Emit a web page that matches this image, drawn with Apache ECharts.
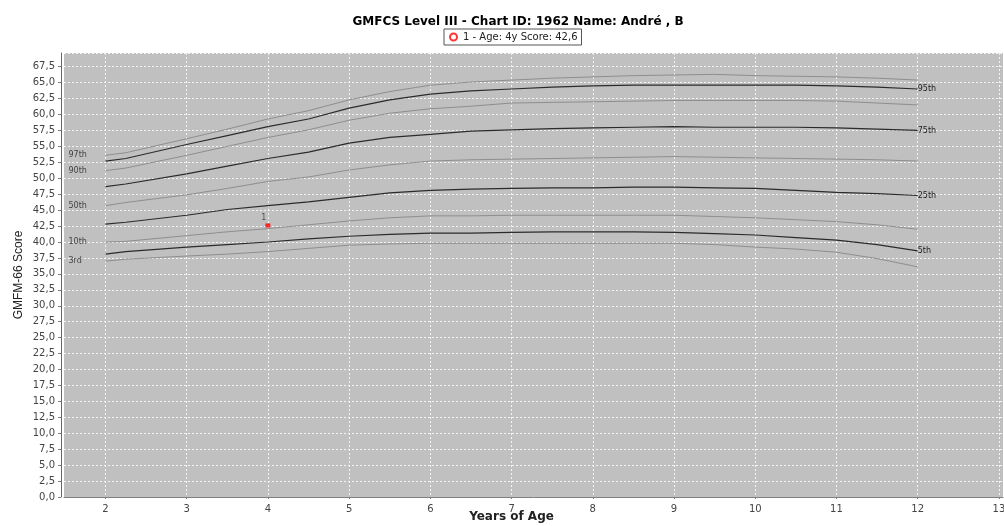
<!DOCTYPE html>
<html>
<head>
<meta charset="utf-8">
<title>GMFCS Level III</title>
<script src="https://cdn.jsdelivr.net/npm/echarts@6/dist/echarts.min.js"></script>
<style>
  html, body { margin: 0; padding: 0; background: #fff; }
  #main { width: 1004px; height: 526px; }
</style>
</head>
<body>
<div id="main"></div>
<script>
  // ages (years) at which the percentile curves are read
  var ages = [2, 2.25, 3, 3.5, 4, 4.5, 5, 5.5, 6, 6.5, 7, 7.5, 8, 8.5, 9, 9.5, 10, 10.5, 11, 11.5, 12];

  // GMFM-66 percentile curves, level III
  var p97 = [53.6, 54.0, 56.2, 57.7, 59.3, 60.6, 62.3, 63.6, 64.6, 65.1, 65.4, 65.7, 65.9, 66.1, 66.2, 66.3, 66.1, 66.0, 65.9, 65.7, 65.4];
  var p95 = [52.7, 53.1, 55.3, 56.7, 58.1, 59.3, 61.0, 62.3, 63.2, 63.7, 64.0, 64.3, 64.5, 64.6, 64.6, 64.6, 64.6, 64.6, 64.5, 64.3, 64.0];
  var p90 = [51.2, 51.6, 53.6, 55.0, 56.4, 57.6, 59.1, 60.2, 60.9, 61.3, 61.8, 61.9, 62.0, 62.1, 62.2, 62.2, 62.2, 62.2, 62.1, 61.8, 61.5];
  var p75 = [48.7, 49.1, 50.7, 51.9, 53.1, 54.1, 55.5, 56.4, 56.9, 57.4, 57.6, 57.8, 57.9, 58.0, 58.1, 58.0, 58.0, 58.0, 57.9, 57.7, 57.5];
  var p50 = [45.7, 46.2, 47.4, 48.4, 49.5, 50.2, 51.3, 52.1, 52.7, 52.9, 53.0, 53.1, 53.2, 53.3, 53.4, 53.3, 53.2, 53.1, 53.0, 52.9, 52.7];
  var p25 = [42.8, 43.1, 44.2, 45.1, 45.7, 46.3, 47.0, 47.7, 48.1, 48.3, 48.4, 48.5, 48.5, 48.6, 48.6, 48.5, 48.4, 48.1, 47.8, 47.6, 47.3];
  var p10 = [40.0, 40.1, 41.0, 41.6, 42.1, 42.7, 43.3, 43.8, 44.1, 44.1, 44.2, 44.2, 44.2, 44.2, 44.2, 44.0, 43.8, 43.5, 43.2, 42.7, 42.0];
  var p5  = [38.1, 38.5, 39.2, 39.6, 40.0, 40.5, 40.9, 41.2, 41.4, 41.4, 41.5, 41.6, 41.6, 41.6, 41.5, 41.3, 41.1, 40.7, 40.3, 39.6, 38.6];
  var p3  = [37.0, 37.3, 37.8, 38.1, 38.5, 39.0, 39.5, 39.7, 39.8, 39.8, 39.8, 39.8, 39.8, 39.8, 39.8, 39.6, 39.2, 38.9, 38.4, 37.4, 36.1];

  // gray curves are labelled on the left, dark ones at their end
  var grayNames = ['97th', '90th', '50th', '10th', '3rd'];
  var grayData = [p97, p90, p50, p10, p3];
  var darkNames = ['95th', '75th', '25th', '5th'];
  var darkData = [p95, p75, p25, p5];

  // the patient's measurement
  var pointAge = [4];
  var pointScore = [42.6];
  var pointLabel = ['1'];
  var legendText = '1 - Age: 4y Score: 42,6';

  var xTicks = [2, 3, 4, 5, 6, 7, 8, 9, 10, 11, 12, 13];
  var xMin = 1.49, xMax = 13.05;

  function pairs(arr) {
    var out = [];
    for (var i = 0; i < ages.length; i++) {
      out.push([ages[i], arr[i]]);
    }
    return out;
  }

  var series = [];
  for (var i = 0; i < grayData.length; i++) {
    series.push({
      name: grayNames[i],
      type: 'line',
      data: pairs(grayData[i]),
      showSymbol: false,
      silent: true,
      lineStyle: { color: '#8e8e8e', width: 1 }
    });
  }
  for (var j = 0; j < darkData.length; j++) {
    series.push({
      name: darkNames[j],
      type: 'line',
      data: pairs(darkData[j]),
      showSymbol: false,
      silent: true,
      lineStyle: { color: '#2b2b2b', width: 1.2 },
      endLabel: {
        show: true,
        formatter: darkNames[j],
        distance: 0,
        fontFamily: 'DejaVu Sans',
        fontSize: 8,
        color: '#222'
      }
    });
  }
  // left side labels, anchored at the axis start
  series.push({
    name: 'leftLabels',
    type: 'scatter',
    silent: true,
    symbolSize: 1,
    itemStyle: { color: 'transparent' },
    data: grayData.map(function (d) { return [xMin, d[0]]; }),
    label: {
      show: true,
      position: 'right',
      distance: 4,
      formatter: function (p) { return grayNames[p.dataIndex]; },
      fontFamily: 'DejaVu Sans',
      fontSize: 8,
      color: '#222'
    }
  });
  series.push({
    name: legendText,
    type: 'scatter',
    symbol: 'rect',
    symbolSize: [5, 4],
    itemStyle: { color: '#ff0000' },
    data: pointAge.map(function (a, k) { return [a, pointScore[k]]; }),
    label: {
      show: true,
      position: 'top',
      offset: [-4, 3],
      formatter: function (p) { return pointLabel[p.dataIndex]; },
      fontFamily: 'DejaVu Sans',
      fontSize: 8,
      color: '#333'
    }
  });

  var chart = echarts.init(document.getElementById('main'));
  chart.setOption({
    animation: false,
    title: {
      text: 'GMFCS Level III - Chart ID: 1962 Name: André , B',
      left: 513,
      textAlign: 'center',
      top: 11,
      textStyle: { fontFamily: 'DejaVu Sans', fontSize: 12, fontWeight: 'bold', color: '#000' }
    },
    legend: {
      left: 444,
      top: 29,
      padding: [3, 4, 3, 5],
      borderColor: '#555',
      borderWidth: 1,
      backgroundColor: '#fff',
      itemWidth: 7,
      itemHeight: 7,
      itemGap: 3,
      data: [{ name: legendText, icon: 'emptyCircle', itemStyle: { color: '#ff0000', borderColor: '#ff0000', borderWidth: 1.5 } }],
      textStyle: { fontFamily: 'DejaVu Sans', fontSize: 10, color: '#222', padding: [0, 0, 0, 1] }
    },
    grid: {
      left: 64,
      right: 1,
      top: 53,
      bottom: 29,
      outerBoundsMode: 'none',
      show: true,
      backgroundColor: '#c0c0c0',
      borderWidth: 0
    },
    xAxis: {
      type: 'value',
      min: xMin,
      max: xMax,
      offset: 3,
      name: 'Years of Age',
      nameLocation: 'middle',
      nameGap: 11,
      nameMoveOverlap: false,
      nameTextStyle: { fontFamily: 'DejaVu Sans', fontSize: 12, fontWeight: 'bold', color: '#222', padding: [0, 44, 0, 0] },
      axisLine: { show: true, lineStyle: { color: '#808080', width: 1 } },
      axisTick: { show: true, length: 2, customValues: xTicks, lineStyle: { color: '#808080' } },
      axisLabel: {
        customValues: xTicks,
        margin: 4,
        fontFamily: 'DejaVu Sans',
        fontSize: 10,
        color: '#444'
      },
      splitLine: { show: true, lineStyle: { color: '#f4f4f4', type: [2, 2], width: 1 } }
    },
    yAxis: {
      type: 'value',
      min: 0,
      max: 69.65,
      interval: 2.5,
      offset: 3,
      name: 'GMFM-66 Score',
      nameLocation: 'middle',
      nameGap: 36,
      nameMoveOverlap: false,
      nameTextStyle: { fontFamily: 'Liberation Sans', fontSize: 12, color: '#222' },
      axisLine: { show: true, lineStyle: { color: '#666', width: 1 } },
      axisTick: { show: true, length: 3, lineStyle: { color: '#808080' } },
      axisLabel: {
        showMaxLabel: false,
        margin: 6,
        fontFamily: 'DejaVu Sans',
        fontSize: 10,
        color: '#444',
        formatter: function (v) { return v.toFixed(1).replace('.', ','); }
      },
      splitLine: { show: true, lineStyle: { color: '#f4f4f4', type: [2, 2], width: 1 } }
    },
    series: series
  });
</script>
</body>
</html>
